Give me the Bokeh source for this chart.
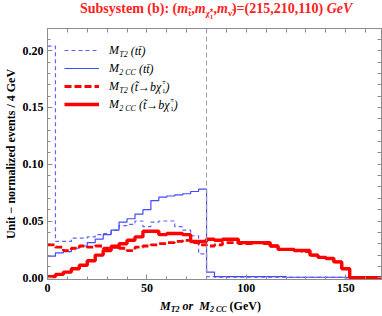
import numpy as np
from bokeh.plotting import figure
from bokeh.layouts import column
from bokeh.models import (Range1d, LinearAxis, SingleIntervalTicker, FixedTicker, Span, Label,
                          Legend, LegendItem, NumeralTickFormatter, ColumnDataSource, Div)
from bokeh.embed import file_html
from bokeh.resources import INLINE

# ---------------- data (4 GeV bins from 0 to 168 GeV) ----------------
bin_edges = list(range(0, 172, 4))

mt2_tt = [0.204, 0.032, 0.032, 0.035, 0.035, 0.036, 0.038, 0.039, 0.042, 0.046,
          0.047, 0.050, 0.045, 0.049, 0.050, 0.050, 0.045, 0.042, 0.037, 0.021,
          0.001, 0.0005, 0.0005, 0.0005, 0.0005, 0.0005, 0.0005, 0.0005, 0.0005, 0.0005,
          0.0005, 0.0005, 0.0005, 0.0005, 0.0005, 0.0005, 0.0005, 0.0, 0.0, 0.0,
          0.0, 0.0]

m2cc_tt = [0.019, 0.022, 0.023, 0.026, 0.028, 0.031, 0.034, 0.038, 0.042, 0.049,
           0.052, 0.056, 0.060, 0.068, 0.071, 0.072, 0.073, 0.074, 0.076, 0.078,
           0.005, 0.001, 0.001, 0.001, 0.001, 0.001, 0.001, 0.001, 0.001, 0.001,
           0.0005, 0.0005, 0.0005, 0.0005, 0.0005, 0.0005, 0.0005, 0.0005, 0.0, 0.0,
           0.0, 0.0]

mt2_stop = [0.029, 0.027, 0.024, 0.026, 0.028, 0.027, 0.028, 0.026, 0.028, 0.026,
            0.024, 0.027, 0.028, 0.029, 0.030, 0.031, 0.032, 0.033, 0.031, 0.029,
            0.028, 0.029, 0.031, 0.031, 0.030, 0.030, 0.031, 0.030, 0.028, 0.025,
            0.025, 0.024, 0.023, 0.020, 0.018, 0.017, 0.014, 0.008, 0.0, 0.0,
            0.0, 0.0]

m2cc_stop = [0.001, 0.003, 0.005, 0.008, 0.011, 0.015, 0.020, 0.024, 0.027, 0.030,
             0.033, 0.036, 0.041, 0.041, 0.038, 0.039, 0.039, 0.038, 0.032, 0.032,
             0.034, 0.033, 0.034, 0.034, 0.031, 0.031, 0.031, 0.031, 0.028, 0.025,
             0.025, 0.024, 0.024, 0.020, 0.018, 0.017, 0.014, 0.008, 0.0, 0.0,
             0.0, 0.0]

endpoint_line = 80  # GeV, dashed gray marker

x_minor_ticks = list(range(0, 170, 10))
y_minor_ticks = [round(0.01 * i, 2) for i in range(0, 22)]

# ---------------- layout geometry (page pixels; Bokeh page has no body margin) ----------------
PAGE_X0, PAGE_Y0 = 0, 0
X0, X1 = 0, 168
Y0, Y1 = -0.0015, 0.2195
TITLE_H, XLAB_H = 25, 19
B_LEFT, B_RIGHT, B_TOP, B_BOTTOM = 46, 1, 3, 18
FIG_W = 382
FRAME_H = 251
FIG_H = FRAME_H + B_TOP + B_BOTTOM
FRAME_L = PAGE_X0 + B_LEFT
FRAME_W = FIG_W - B_LEFT - B_RIGHT
FRAME_T = PAGE_Y0 + TITLE_H + B_TOP
FRAME_B = FRAME_T + FRAME_H

SERIF = "Liberation Serif"

p = figure(width=FIG_W, height=FIG_H, x_range=Range1d(X0, X1), y_range=Range1d(Y0, Y1),
           output_backend="svg", toolbar_location=None,
           min_border_left=B_LEFT, min_border_right=B_RIGHT, min_border_top=B_TOP,
           min_border_bottom=B_BOTTOM, margin=(0, 0, 0, 0))
p.xgrid.visible = False
p.ygrid.visible = False
p.outline_line_color = "#8c8c8c"

def style_axis(ax):
    ax.major_tick_in = 5
    ax.major_tick_out = 0
    ax.minor_tick_in = 3
    ax.minor_tick_out = 0
    ax.axis_line_color = "#8c8c8c"
    ax.major_tick_line_color = "#8c8c8c"
    ax.minor_tick_line_color = "#8c8c8c"
    ax.major_label_text_font = SERIF
    ax.major_label_text_font_size = "12px"
    ax.major_label_text_font_style = "bold"
    ax.major_label_text_color = "black"

p.xaxis.ticker = SingleIntervalTicker(interval=50, num_minor_ticks=5)
p.yaxis.ticker = SingleIntervalTicker(interval=0.05, num_minor_ticks=5)
p.yaxis.formatter = NumeralTickFormatter(format="0.00")
style_axis(p.xaxis[0])
style_axis(p.yaxis[0])
p.xaxis.major_label_standoff = 4
p.yaxis.major_label_standoff = 4
p.yaxis.axis_label = "Unit \u2212 normalized events / 4 GeV"
p.yaxis.axis_label_text_font = SERIF
p.yaxis.axis_label_text_font_size = "12px"
p.yaxis.axis_label_text_font_style = "bold"
p.yaxis.axis_label_standoff = 2
p.yaxis.axis_label_text_color = "black"

# frame ticks on top and right (minor ticks only -> no labels)
top_ax = LinearAxis(ticker=FixedTicker(ticks=[], minor_ticks=x_minor_ticks))
right_ax = LinearAxis(ticker=FixedTicker(ticks=[], minor_ticks=y_minor_ticks))
for ax in (top_ax, right_ax):
    style_axis(ax)
    ax.minor_tick_in = 4
    ax.major_label_standoff = 0
p.add_layout(top_ax, "above")
p.add_layout(right_ax, "right")

# ---------------- histograms ----------------
def step_source(vals):
    return ColumnDataSource(dict(x=bin_edges, y=list(vals) + [vals[-1]]))

r_mt2_tt = p.step("x", "y", source=step_source(mt2_tt), mode="after",
                  line_color="#6262ff", line_width=1.2, line_dash="4 3")
r_m2cc_tt = p.step("x", "y", source=step_source(m2cc_tt), mode="after",
                   line_color="#4747ff", line_width=1.2)
r_mt2_stop = p.step("x", "y", source=step_source(mt2_stop), mode="after",
                    line_color="#ff0000", line_width=2.8, line_dash="7 3")
r_m2cc_stop = p.step("x", "y", source=step_source(m2cc_stop), mode="after",
                     line_color="#ff0000", line_width=3.4)

p.add_layout(Span(location=endpoint_line, dimension="height", line_color="#9a9a9a",
                  line_dash="5 3", line_width=1))

# ---------------- legend ----------------
LEG_TOP = 42          # page px
LEG_ROW = 18
legend = Legend(items=[LegendItem(label="M", renderers=[r]) for r in
                       (r_mt2_tt, r_m2cc_tt, r_mt2_stop, r_m2cc_stop)],
                location=(63 - FRAME_L, FRAME_B - LEG_TOP - 4 * 16 - 3 * 2),
                glyph_width=35, glyph_height=16, label_height=16,
                spacing=2, padding=0, margin=0, border_line_color=None,
                background_fill_alpha=0, label_standoff=10,
                label_text_font=SERIF, label_text_font_size="12px",
                label_text_font_style="italic", label_text_color="black")
p.add_layout(legend)

# ---------------- rich text helper for legend remainders ----------------
EM = {'M': .833, 'T': .556, 'C': .667, 'm': .72, 't': .28, 'o': .5, 'r': .389, '(': .333,
      ')': .333, ' ': .25, ',': .25, '=': .57, 'b': .5, '\u2192': .95, '\u03c7': .55,
      '\u00b1': .57, '\u0303': 0, '\u0304': 0}

def text_w(s, size):
    return sum(EM.get(c, .5) for c in s) * size

def dxp(px):
    return X0 + (px - FRAME_L) * (X1 - X0) / FRAME_W

def dyp(py):
    return Y0 + (FRAME_B - py) * (Y1 - Y0) / FRAME_H

def rich(px, py, parts):
    cur = 0.0
    for part in parts:
        txt, size, style, shift = part[:4]
        adv = part[4] if len(part) > 4 else True
        lead = len(txt) - len(txt.lstrip(" "))
        cur += lead * 0.25 * size
        body = txt.lstrip(" ")
        p.add_layout(Label(x=dxp(px), y=dyp(py), x_offset=cur, y_offset=-shift, text=body,
                           text_font=SERIF, text_font_size=f"{size}px",
                           text_font_style=style, text_color="black",
                           text_baseline="middle", text_align="left"))
        if adv:
            cur += text_w(body, size)

LEG_TEXT_X = 63 + 35 + 10 + 10   # after the legend's own "M"
rows_y = [LEG_TOP + 8 + i * LEG_ROW for i in range(4)]
stop_txt = [(" (t\u0303\u2192b\u03c7", 12, "italic", 0),
            ("\u00b1", 7, "normal", -5, False), ("1", 7, "normal", 4),
            (")", 12, "italic", 0)]
rich(LEG_TEXT_X, rows_y[0], [("T2", 8, "italic", 4), (" (tt\u0304)", 12, "italic", 0)])
rich(LEG_TEXT_X, rows_y[1], [("2 CC", 8, "italic", 4), (" (tt\u0304)", 12, "italic", 0)])
rich(LEG_TEXT_X, rows_y[2], [("T2", 8, "italic", 4)] + stop_txt)
rich(LEG_TEXT_X, rows_y[3], [("2 CC", 8, "italic", 4)] + stop_txt)

# ---------------- title and x-axis label (HTML, with sub/superscripts) ----------------
def sub(size, drop):
    return f'style="font-size:{size}px;vertical-align:-{drop}px;line-height:0"'

STACK = ('<span style="display:inline-block;font-size:7px;line-height:7px;'
         'vertical-align:-6px;text-align:left">\u00b1<br>1</span>')
title_html = (
    f'<div style="padding-left:80px;padding-top:2px;font-family:\'{SERIF}\';font-size:14px;'
    'line-height:14px;font-weight:bold;color:#ff2020;white-space:nowrap">'
    f'Subsystem (b): (<i>m</i><sub {sub(9, 3)}>t\u0303</sub>,<i>m</i>'
    f'<sub {sub(9, 3)}>\u03c7\u0303</sub>{STACK},'
    f'<i>m</i><sub {sub(9, 3)}>\u03bd\u0303</sub>)=(215,210,110) <i>GeV</i></div>'
)
xlab_html = (
    f'<div style="padding-left:160px;padding-top:3px;font-family:\'{SERIF}\';font-size:12px;'
    'line-height:12px;font-weight:bold;color:black;white-space:nowrap">'
    f'<i>M</i><sub {sub(8, 2)}><i>T2</i></sub><i> or&nbsp;&nbsp;M</i>'
    f'<sub {sub(8, 2)}><i>2 CC</i></sub> (GeV)</div>'
)
title_div = Div(text=title_html, width=FIG_W, height=TITLE_H, margin=(0, 0, 0, 0))
xlab_div = Div(text=xlab_html, width=FIG_W, height=XLAB_H, margin=(0, 0, 0, 0))

layout = column(title_div, p, xlab_div, spacing=0, margin=(0, 0, 0, 0))

open("out.html", "w").write(file_html(layout, INLINE))
